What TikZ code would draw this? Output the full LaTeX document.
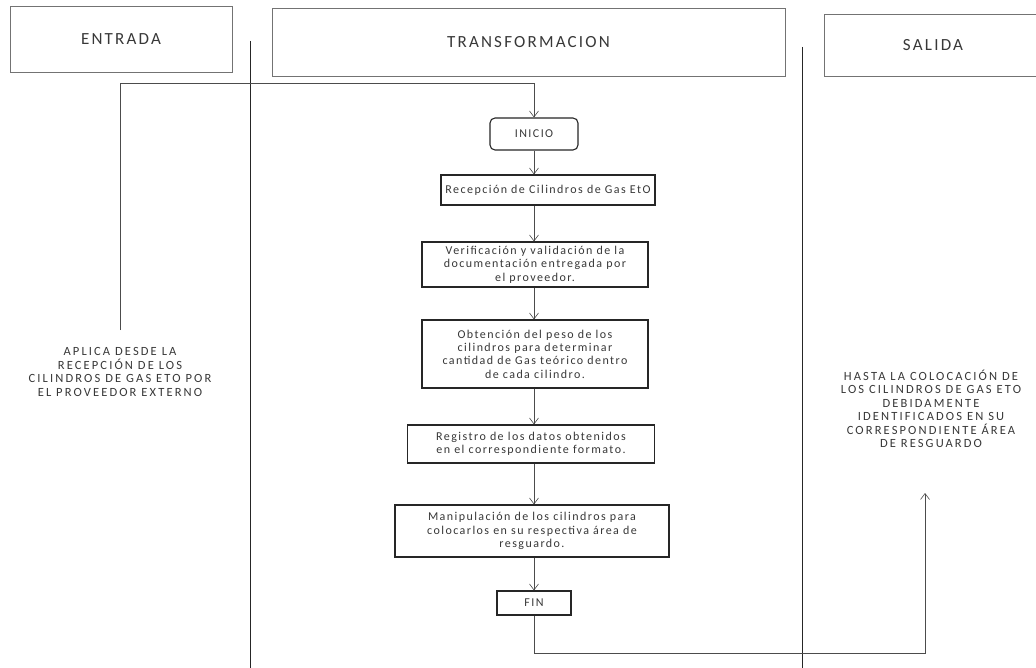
\documentclass[tikz,border=0pt]{standalone}
\usepackage{fontspec}
\setmainfont{Carlito}
\newfontfamily\hdrfont[LetterSpace=13]{Carlito}
\newfontfamily\sidefont[LetterSpace=17]{Carlito}
\newfontfamily\flowfont[LetterSpace=12]{Carlito}
\usetikzlibrary{arrows.meta}
\begin{document}
\begin{tikzpicture}[x=1pt,y=-1pt,
  every node/.style={text=black!78},
  hdrbox/.style={draw=black!55, line width=0.55pt},
  hdrtxt/.style={font=\hdrfont\fontsize{17}{20}\selectfont},
  flowbox/.style={draw=black!85, line width=1.1pt, align=center, inner sep=2pt, font=\flowfont\fontsize{12}{13.4}\selectfont},
  sidetxt/.style={align=center, font=\sidefont\fontsize{12.5}{13.5}\selectfont},
  sep/.style={draw=black!85, line width=0.9pt},
  conn/.style={draw=black!70, line width=0.6pt},
  arr/.style={conn, -{Straight Barb[length=6pt,width=9pt]}}]
\useasboundingbox (0,0) rectangle (1036,668);
\fill[white] (0,0) rectangle (1036,668);

% header boxes
\node[hdrbox, hdrtxt, minimum width=222pt, minimum height=66pt] (entrada) at (121,39) {ENTRADA};
\node[hdrbox, hdrtxt, minimum width=513pt, minimum height=68pt] (transf) at (528.5,42) {TRANSFORMACION};
\draw[hdrbox] (1037,14) -- (824,14) -- (824,76) -- (1037,76);
\node[hdrtxt] (salida) at (933,45) {SALIDA};

% column separators
\coordinate (s1top) at (250,41);
\coordinate (s1bot) at (250,668);
\coordinate (s2top) at (802,47);
\coordinate (s2bot) at (802,668);
\draw[sep] (s1top) -- (s1bot);
\draw[sep] (s2top) -- (s2bot);

% side texts
\node[sidetxt] (aplica) at (120,372) {APLICA DESDE LA\\RECEPCIÓN DE LOS\\CILINDROS DE GAS ETO POR\\EL PROVEEDOR EXTERNO};
\node[sidetxt] (hasta) at (931,409) {HASTA LA COLOCACIÓN DE\\LOS CILINDROS DE GAS ETO\\DEBIDAMENTE\\IDENTIFICADOS EN SU\\CORRESPONDIENTE ÁREA\\DE RESGUARDO};

% flow boxes
\node[flowbox, rounded corners=5pt, minimum width=88pt, minimum height=32pt] (inicio) at (534,134) {INICIO};
\node[flowbox, minimum width=214pt, minimum height=30pt] (recep) at (548,190) {Recepción de Cilindros de Gas EtO};
\node[flowbox, minimum width=226pt, minimum height=45pt] (verif) at (535,264.5) {Verificación y validación de la\\documentación entregada por\\el proveedor.};
\node[flowbox, minimum width=226pt, minimum height=68pt] (obten) at (535,354) {Obtención del peso de los\\cilindros para determinar\\cantidad de Gas teórico dentro\\de cada cilindro.};
\node[flowbox, minimum width=247pt, minimum height=38pt] (regis) at (531,444) {Registro de los datos obtenidos\\en el correspondiente formato.};
\node[flowbox, minimum width=274pt, minimum height=52pt] (manip) at (532,531) {Manipulación de los cilindros para\\colocarlos en su respectiva área de\\resguardo.};
\node[flowbox, minimum width=74pt, minimum height=24pt] (fin) at (534,603) {FIN};

% connectors
\coordinate (lstart) at (120,330);
\coordinate (lcorner) at (120,83);
\coordinate (tcorner) at (534,83);
\draw[arr] (lstart) -- (lcorner) -- (tcorner) -- (inicio.north);

\draw[arr] (inicio.south) -- (inicio.south |- recep.north);
\draw[arr] (inicio.south |- recep.south) -- (inicio.south |- verif.north);
\draw[arr] (inicio.south |- verif.south) -- (inicio.south |- obten.north);
\draw[arr] (inicio.south |- obten.south) -- (inicio.south |- regis.north);
\draw[arr] (inicio.south |- regis.south) -- (inicio.south |- manip.north);
\draw[arr] (inicio.south |- manip.south) -- (fin.north);

\coordinate (bcorner1) at (534,653);
\coordinate (bcorner2) at (925,653);
\coordinate (rend) at (925,493);
\draw[arr] (fin.south) -- (bcorner1) -- (bcorner2) -- (rend);
\end{tikzpicture}
\end{document}
